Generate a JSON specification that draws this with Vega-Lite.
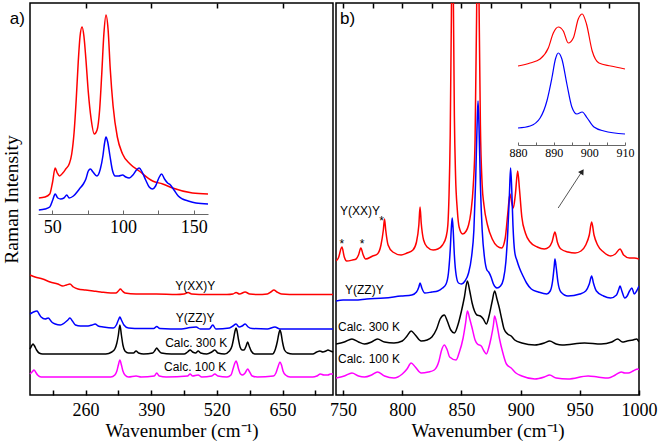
{
 "$schema": "https://vega.github.io/schema/vega-lite/v6.json",
 "autosize": {"type": "pad"},
 "padding": {"left": 0, "top": 1, "right": 5, "bottom": 5},
 "bounds": "flush",
 "spacing": 3,
 "config": {
  "view": {"stroke": "#000", "strokeWidth": 1.5},
  "axis": {"grid": false, "labelFont": "Liberation Serif", "titleFont": "Liberation Serif", "labelColor": "#000", "titleColor": "#000", "tickColor": "#000", "domainColor": "#000", "titleFontWeight": "normal", "labelOverlap": false, "labelFlush": false},
  "text": {"font": "Liberation Sans", "color": "#000"},
  "line": {"interpolate": "monotone"}
 },
 "datasets": {
  "la": [
   {"s":"XX","x":150,"y":120},{"s":"XX","x":160,"y":118},{"s":"XX","x":175,"y":116},{"s":"XX","x":190,"y":113},{"s":"XX","x":205,"y":111},{"s":"XX","x":215,"y":109},{"s":"XX","x":222,"y":110},{"s":"XX","x":229,"y":111},{"s":"XX","x":236,"y":108},{"s":"XX","x":245,"y":106},{"s":"XX","x":260,"y":105},{"s":"XX","x":275,"y":104},{"s":"XX","x":290,"y":103},{"s":"XX","x":310,"y":102},{"s":"XX","x":320,"y":102},{"s":"XX","x":325,"y":104},{"s":"XX","x":329,"y":106},{"s":"XX","x":333,"y":104},{"s":"XX","x":338,"y":102},{"s":"XX","x":360,"y":101},{"s":"XX","x":400,"y":101},{"s":"XX","x":440,"y":100.5},{"s":"XX","x":455,"y":101},{"s":"XX","x":463,"y":102.5},{"s":"XX","x":470,"y":101},{"s":"XX","x":500,"y":100.5},{"s":"XX","x":540,"y":100.5},{"s":"XX","x":552,"y":101},{"s":"XX","x":558,"y":102.5},{"s":"XX","x":565,"y":101},{"s":"XX","x":576,"y":103},{"s":"XX","x":585,"y":101},{"s":"XX","x":600,"y":100.5},{"s":"XX","x":620,"y":101},{"s":"XX","x":627,"y":103},{"s":"XX","x":633,"y":105},{"s":"XX","x":639,"y":103},{"s":"XX","x":648,"y":101},{"s":"XX","x":680,"y":100.5},{"s":"XX","x":720,"y":100.5},{"s":"XX","x":750,"y":100.5},
   {"s":"ZZ","x":150,"y":81},{"s":"ZZ","x":157,"y":83},{"s":"ZZ","x":164,"y":84},{"s":"ZZ","x":168,"y":81},{"s":"ZZ","x":172,"y":78},{"s":"ZZ","x":180,"y":76},{"s":"ZZ","x":186,"y":77},{"s":"ZZ","x":193,"y":73},{"s":"ZZ","x":200,"y":71},{"s":"ZZ","x":210,"y":70},{"s":"ZZ","x":218,"y":72},{"s":"ZZ","x":225,"y":75},{"s":"ZZ","x":229,"y":77},{"s":"ZZ","x":234,"y":74},{"s":"ZZ","x":240,"y":70},{"s":"ZZ","x":250,"y":69},{"s":"ZZ","x":265,"y":69},{"s":"ZZ","x":273,"y":70},{"s":"ZZ","x":279,"y":71},{"s":"ZZ","x":285,"y":69},{"s":"ZZ","x":295,"y":68},{"s":"ZZ","x":315,"y":67},{"s":"ZZ","x":321,"y":70},{"s":"ZZ","x":325,"y":75},{"s":"ZZ","x":328,"y":78},{"s":"ZZ","x":331,"y":75},{"s":"ZZ","x":336,"y":70},{"s":"ZZ","x":345,"y":67},{"s":"ZZ","x":370,"y":66.5},{"s":"ZZ","x":395,"y":66.5},{"s":"ZZ","x":401,"y":68.5},{"s":"ZZ","x":407,"y":66.5},{"s":"ZZ","x":450,"y":66},{"s":"ZZ","x":467,"y":67.5},{"s":"ZZ","x":479,"y":68},{"s":"ZZ","x":487,"y":66},{"s":"ZZ","x":505,"y":66},{"s":"ZZ","x":512,"y":70},{"s":"ZZ","x":518,"y":66},{"s":"ZZ","x":545,"y":67},{"s":"ZZ","x":552,"y":69},{"s":"ZZ","x":558,"y":71},{"s":"ZZ","x":564,"y":68},{"s":"ZZ","x":570,"y":69},{"s":"ZZ","x":576,"y":71},{"s":"ZZ","x":582,"y":68},{"s":"ZZ","x":590,"y":66.5},{"s":"ZZ","x":620,"y":66},{"s":"ZZ","x":635,"y":68},{"s":"ZZ","x":645,"y":66},{"s":"ZZ","x":700,"y":66},{"s":"ZZ","x":750,"y":66},
   {"s":"C300","x":150,"y":46},{"s":"C300","x":153,"y":49},{"s":"C300","x":156,"y":51},{"s":"C300","x":159,"y":49},{"s":"C300","x":163,"y":45},{"s":"C300","x":168,"y":42},{"s":"C300","x":175,"y":41},{"s":"C300","x":250,"y":41},{"s":"C300","x":300,"y":41},{"s":"C300","x":312,"y":43},{"s":"C300","x":318,"y":46},{"s":"C300","x":322,"y":52},{"s":"C300","x":325,"y":60},{"s":"C300","x":328,"y":70},{"s":"C300","x":331,"y":60},{"s":"C300","x":334,"y":50},{"s":"C300","x":338,"y":44},{"s":"C300","x":345,"y":42},{"s":"C300","x":355,"y":42},{"s":"C300","x":360,"y":44},{"s":"C300","x":365,"y":42},{"s":"C300","x":375,"y":41},{"s":"C300","x":393,"y":42},{"s":"C300","x":398,"y":45},{"s":"C300","x":401,"y":47},{"s":"C300","x":404,"y":45},{"s":"C300","x":410,"y":42},{"s":"C300","x":430,"y":41},{"s":"C300","x":455,"y":41},{"s":"C300","x":462,"y":43},{"s":"C300","x":467,"y":45},{"s":"C300","x":472,"y":43},{"s":"C300","x":478,"y":42},{"s":"C300","x":483,"y":44},{"s":"C300","x":488,"y":42},{"s":"C300","x":500,"y":41},{"s":"C300","x":510,"y":43},{"s":"C300","x":516,"y":45},{"s":"C300","x":522,"y":42},{"s":"C300","x":535,"y":41},{"s":"C300","x":545,"y":44},{"s":"C300","x":550,"y":49},{"s":"C300","x":553,"y":56},{"s":"C300","x":556,"y":64},{"s":"C300","x":558,"y":67},{"s":"C300","x":560,"y":64},{"s":"C300","x":563,"y":55},{"s":"C300","x":566,"y":48},{"s":"C300","x":570,"y":45},{"s":"C300","x":574,"y":45},{"s":"C300","x":578,"y":49},{"s":"C300","x":581,"y":53},{"s":"C300","x":584,"y":49},{"s":"C300","x":588,"y":44},{"s":"C300","x":595,"y":41},{"s":"C300","x":630,"y":41},{"s":"C300","x":636,"y":46},{"s":"C300","x":640,"y":54},{"s":"C300","x":643,"y":62},{"s":"C300","x":645,"y":65},{"s":"C300","x":647,"y":62},{"s":"C300","x":650,"y":53},{"s":"C300","x":654,"y":45},{"s":"C300","x":660,"y":42},{"s":"C300","x":670,"y":41},{"s":"C300","x":710,"y":41},{"s":"C300","x":718,"y":43},{"s":"C300","x":724,"y":44},{"s":"C300","x":730,"y":43},{"s":"C300","x":736,"y":44},{"s":"C300","x":740,"y":45},{"s":"C300","x":745,"y":44},{"s":"C300","x":750,"y":43},
   {"s":"C100","x":150,"y":21},{"s":"C100","x":154,"y":23},{"s":"C100","x":158,"y":25},{"s":"C100","x":161,"y":23},{"s":"C100","x":165,"y":20},{"s":"C100","x":172,"y":18},{"s":"C100","x":250,"y":18},{"s":"C100","x":310,"y":18},{"s":"C100","x":318,"y":20},{"s":"C100","x":322,"y":24},{"s":"C100","x":325,"y":30},{"s":"C100","x":328,"y":35},{"s":"C100","x":331,"y":30},{"s":"C100","x":334,"y":24},{"s":"C100","x":338,"y":20},{"s":"C100","x":345,"y":18},{"s":"C100","x":360,"y":19},{"s":"C100","x":370,"y":18},{"s":"C100","x":396,"y":19},{"s":"C100","x":401,"y":22},{"s":"C100","x":406,"y":19},{"s":"C100","x":420,"y":18},{"s":"C100","x":462,"y":19},{"s":"C100","x":467,"y":21},{"s":"C100","x":472,"y":19},{"s":"C100","x":483,"y":20},{"s":"C100","x":490,"y":18},{"s":"C100","x":510,"y":19},{"s":"C100","x":516,"y":21},{"s":"C100","x":522,"y":19},{"s":"C100","x":540,"y":18},{"s":"C100","x":548,"y":20},{"s":"C100","x":552,"y":26},{"s":"C100","x":555,"y":31},{"s":"C100","x":558,"y":34},{"s":"C100","x":560,"y":32},{"s":"C100","x":563,"y":26},{"s":"C100","x":567,"y":21},{"s":"C100","x":571,"y":20},{"s":"C100","x":576,"y":22},{"s":"C100","x":581,"y":26},{"s":"C100","x":585,"y":23},{"s":"C100","x":590,"y":19},{"s":"C100","x":600,"y":18},{"s":"C100","x":632,"y":19},{"s":"C100","x":637,"y":22},{"s":"C100","x":641,"y":28},{"s":"C100","x":645,"y":33},{"s":"C100","x":648,"y":30},{"s":"C100","x":651,"y":24},{"s":"C100","x":656,"y":20},{"s":"C100","x":665,"y":18},{"s":"C100","x":710,"y":18},{"s":"C100","x":718,"y":19},{"s":"C100","x":725,"y":21},{"s":"C100","x":732,"y":20},{"s":"C100","x":740,"y":20},{"s":"C100","x":745,"y":21},{"s":"C100","x":750,"y":21}
  ],
  "li": [
   {"s":"XX","x":40.6,"y":16},{"s":"XX","x":45,"y":17},{"s":"XX","x":48.3,"y":20},{"s":"XX","x":50.3,"y":32},{"s":"XX","x":52.1,"y":46},{"s":"XX","x":53.6,"y":41},{"s":"XX","x":55.2,"y":38},{"s":"XX","x":57.5,"y":41},{"s":"XX","x":59.6,"y":45},{"s":"XX","x":62,"y":50},{"s":"XX","x":63.8,"y":60},{"s":"XX","x":65.5,"y":82},{"s":"XX","x":67,"y":115},{"s":"XX","x":68.4,"y":152},{"s":"XX","x":69.7,"y":178},{"s":"XX","x":71.1,"y":187},{"s":"XX","x":72.4,"y":178},{"s":"XX","x":73.8,"y":155},{"s":"XX","x":75.5,"y":122},{"s":"XX","x":77.5,"y":95},{"s":"XX","x":79.7,"y":80},{"s":"XX","x":81.7,"y":84},{"s":"XX","x":83.5,"y":104},{"s":"XX","x":85,"y":140},{"s":"XX","x":86.5,"y":180},{"s":"XX","x":88,"y":199},{"s":"XX","x":89.5,"y":184},{"s":"XX","x":91,"y":145},{"s":"XX","x":93,"y":108},{"s":"XX","x":96,"y":77},{"s":"XX","x":99.7,"y":60},{"s":"XX","x":105,"y":50},{"s":"XX","x":111.4,"y":43},{"s":"XX","x":120.9,"y":33},{"s":"XX","x":128,"y":30},{"s":"XX","x":135,"y":26},{"s":"XX","x":149,"y":21},{"s":"XX","x":160,"y":20},
   {"s":"ZZ","x":40.6,"y":4},{"s":"ZZ","x":45,"y":5},{"s":"ZZ","x":48.3,"y":7},{"s":"ZZ","x":50.4,"y":14},{"s":"ZZ","x":52.1,"y":20},{"s":"ZZ","x":54,"y":16},{"s":"ZZ","x":56,"y":15},{"s":"ZZ","x":58.3,"y":16},{"s":"ZZ","x":60.3,"y":19},{"s":"ZZ","x":62,"y":16},{"s":"ZZ","x":65,"y":18},{"s":"ZZ","x":69.2,"y":25},{"s":"ZZ","x":72,"y":30},{"s":"ZZ","x":73.8,"y":35},{"s":"ZZ","x":75.5,"y":43},{"s":"ZZ","x":77,"y":45},{"s":"ZZ","x":78.8,"y":42},{"s":"ZZ","x":81.6,"y":38},{"s":"ZZ","x":84,"y":45},{"s":"ZZ","x":85.8,"y":58},{"s":"ZZ","x":87,"y":71},{"s":"ZZ","x":88,"y":77},{"s":"ZZ","x":89.2,"y":72},{"s":"ZZ","x":90.8,"y":58},{"s":"ZZ","x":92.5,"y":44},{"s":"ZZ","x":94.5,"y":38},{"s":"ZZ","x":97,"y":38},{"s":"ZZ","x":99.7,"y":39},{"s":"ZZ","x":102,"y":37},{"s":"ZZ","x":104.4,"y":36},{"s":"ZZ","x":107,"y":39},{"s":"ZZ","x":109.5,"y":44},{"s":"ZZ","x":111.4,"y":46},{"s":"ZZ","x":113.5,"y":42},{"s":"ZZ","x":116,"y":34},{"s":"ZZ","x":118.5,"y":27},{"s":"ZZ","x":120.9,"y":25},{"s":"ZZ","x":123,"y":28},{"s":"ZZ","x":125.3,"y":36},{"s":"ZZ","x":127.2,"y":40},{"s":"ZZ","x":129.3,"y":35},{"s":"ZZ","x":131.5,"y":31},{"s":"ZZ","x":133.5,"y":29},{"s":"ZZ","x":136,"y":24},{"s":"ZZ","x":139,"y":18},{"s":"ZZ","x":142,"y":15},{"s":"ZZ","x":146,"y":13},{"s":"ZZ","x":151.5,"y":11},{"s":"ZZ","x":160,"y":10}
  ],
  "ra": [
   {"s":"XX","x":744,"y":134},{"s":"XX","x":746,"y":137},{"s":"XX","x":749,"y":148},{"s":"XX","x":751,"y":138},{"s":"XX","x":753,"y":134},{"s":"XX","x":758,"y":135},{"s":"XX","x":761,"y":136},{"s":"XX","x":763,"y":140},{"s":"XX","x":765,"y":147},{"s":"XX","x":767,"y":140},{"s":"XX","x":769,"y":136},{"s":"XX","x":775,"y":139},{"s":"XX","x":779,"y":141},{"s":"XX","x":782,"y":150},{"s":"XX","x":784,"y":165},{"s":"XX","x":785,"y":176},{"s":"XX","x":786,"y":165},{"s":"XX","x":788,"y":150},{"s":"XX","x":792,"y":143},{"s":"XX","x":799,"y":140},{"s":"XX","x":804,"y":142},{"s":"XX","x":809,"y":145},{"s":"XX","x":812,"y":153},{"s":"XX","x":814,"y":170},{"s":"XX","x":815,"y":188},{"s":"XX","x":816,"y":172},{"s":"XX","x":818,"y":155},{"s":"XX","x":821,"y":148},{"s":"XX","x":826,"y":145},{"s":"XX","x":830,"y":146},{"s":"XX","x":834,"y":150},{"s":"XX","x":837,"y":158},{"s":"XX","x":838.5,"y":170},{"s":"XX","x":839.5,"y":200},{"s":"XX","x":840.5,"y":260},{"s":"XX","x":841.5,"y":380},{"s":"XX","x":842.2,"y":520},{"s":"XX","x":843,"y":420},{"s":"XX","x":844,"y":280},{"s":"XX","x":845,"y":220},{"s":"XX","x":846.5,"y":185},{"s":"XX","x":848,"y":168},{"s":"XX","x":851,"y":161},{"s":"XX","x":854,"y":164},{"s":"XX","x":856,"y":170},{"s":"XX","x":858,"y":183},{"s":"XX","x":860,"y":210},{"s":"XX","x":861.5,"y":255},{"s":"XX","x":862.8,"y":380},{"s":"XX","x":863.8,"y":520},{"s":"XX","x":864.8,"y":400},{"s":"XX","x":866,"y":270},{"s":"XX","x":867.5,"y":210},{"s":"XX","x":869,"y":190},{"s":"XX","x":872,"y":170},{"s":"XX","x":876,"y":156},{"s":"XX","x":880,"y":149},{"s":"XX","x":884,"y":147},{"s":"XX","x":887,"y":157},{"s":"XX","x":889,"y":180},{"s":"XX","x":891,"y":201},{"s":"XX","x":892.5,"y":192},{"s":"XX","x":893.8,"y":187},{"s":"XX","x":895.5,"y":200},{"s":"XX","x":897.5,"y":224},{"s":"XX","x":899,"y":206},{"s":"XX","x":901,"y":178},{"s":"XX","x":904,"y":162},{"s":"XX","x":908,"y":153},{"s":"XX","x":914,"y":148},{"s":"XX","x":920,"y":146},{"s":"XX","x":924,"y":148},{"s":"XX","x":926.5,"y":153},{"s":"XX","x":929,"y":163},{"s":"XX","x":931,"y":153},{"s":"XX","x":934,"y":146},{"s":"XX","x":940,"y":143},{"s":"XX","x":946,"y":142},{"s":"XX","x":951,"y":144},{"s":"XX","x":955,"y":150},{"s":"XX","x":958,"y":160},{"s":"XX","x":960,"y":173},{"s":"XX","x":962,"y":160},{"s":"XX","x":965,"y":150},{"s":"XX","x":970,"y":143},{"s":"XX","x":976,"y":139},{"s":"XX","x":980,"y":141},{"s":"XX","x":984,"y":146},{"s":"XX","x":987,"y":140},{"s":"XX","x":992,"y":137},{"s":"XX","x":996,"y":137},{"s":"XX","x":1000,"y":136},
   {"s":"ZZ","x":744,"y":94},{"s":"ZZ","x":750,"y":95},{"s":"ZZ","x":760,"y":95},{"s":"ZZ","x":770,"y":96},{"s":"ZZ","x":785,"y":97},{"s":"ZZ","x":799,"y":99},{"s":"ZZ","x":808,"y":100},{"s":"ZZ","x":812,"y":103},{"s":"ZZ","x":814,"y":108},{"s":"ZZ","x":815,"y":112},{"s":"ZZ","x":816.5,"y":107},{"s":"ZZ","x":819,"y":102},{"s":"ZZ","x":825,"y":103},{"s":"ZZ","x":830,"y":104},{"s":"ZZ","x":834,"y":107},{"s":"ZZ","x":837,"y":111},{"s":"ZZ","x":839,"y":122},{"s":"ZZ","x":840.5,"y":145},{"s":"ZZ","x":841.5,"y":168},{"s":"ZZ","x":842.2,"y":177},{"s":"ZZ","x":843,"y":165},{"s":"ZZ","x":844,"y":140},{"s":"ZZ","x":845.5,"y":120},{"s":"ZZ","x":847.5,"y":112},{"s":"ZZ","x":850,"y":111},{"s":"ZZ","x":853,"y":114},{"s":"ZZ","x":856,"y":122},{"s":"ZZ","x":858.5,"y":138},{"s":"ZZ","x":860.5,"y":165},{"s":"ZZ","x":862,"y":215},{"s":"ZZ","x":863.2,"y":270},{"s":"ZZ","x":864,"y":294},{"s":"ZZ","x":864.8,"y":270},{"s":"ZZ","x":866,"y":210},{"s":"ZZ","x":867.5,"y":165},{"s":"ZZ","x":869.5,"y":137},{"s":"ZZ","x":871.5,"y":125},{"s":"ZZ","x":873,"y":123},{"s":"ZZ","x":875,"y":118},{"s":"ZZ","x":877,"y":111},{"s":"ZZ","x":880,"y":107},{"s":"ZZ","x":883,"y":109},{"s":"ZZ","x":885.5,"y":116},{"s":"ZZ","x":887.5,"y":133},{"s":"ZZ","x":889,"y":160},{"s":"ZZ","x":890.5,"y":200},{"s":"ZZ","x":891.5,"y":227},{"s":"ZZ","x":892.5,"y":205},{"s":"ZZ","x":893.5,"y":170},{"s":"ZZ","x":895,"y":143},{"s":"ZZ","x":897,"y":134},{"s":"ZZ","x":899,"y":127},{"s":"ZZ","x":902,"y":119},{"s":"ZZ","x":905,"y":112},{"s":"ZZ","x":909,"y":106},{"s":"ZZ","x":915,"y":103},{"s":"ZZ","x":922,"y":101},{"s":"ZZ","x":925,"y":104},{"s":"ZZ","x":927,"y":114},{"s":"ZZ","x":928.3,"y":128},{"s":"ZZ","x":929,"y":136},{"s":"ZZ","x":930,"y":128},{"s":"ZZ","x":931.5,"y":113},{"s":"ZZ","x":934,"y":103},{"s":"ZZ","x":940,"y":99},{"s":"ZZ","x":950,"y":101},{"s":"ZZ","x":955,"y":104},{"s":"ZZ","x":958,"y":111},{"s":"ZZ","x":960,"y":119},{"s":"ZZ","x":961.5,"y":112},{"s":"ZZ","x":964,"y":104},{"s":"ZZ","x":970,"y":99},{"s":"ZZ","x":976,"y":97},{"s":"ZZ","x":981,"y":100},{"s":"ZZ","x":983,"y":106},{"s":"ZZ","x":984,"y":109},{"s":"ZZ","x":985.5,"y":104},{"s":"ZZ","x":988,"y":97},{"s":"ZZ","x":990,"y":99},{"s":"ZZ","x":992,"y":104},{"s":"ZZ","x":994,"y":107},{"s":"ZZ","x":996,"y":101},{"s":"ZZ","x":998,"y":104},{"s":"ZZ","x":1000,"y":109},
   {"s":"C300","x":744,"y":51},{"s":"C300","x":751,"y":53},{"s":"C300","x":757.5,"y":56},{"s":"C300","x":763,"y":53},{"s":"C300","x":768,"y":51},{"s":"C300","x":774,"y":53},{"s":"C300","x":779,"y":56},{"s":"C300","x":785,"y":53},{"s":"C300","x":793,"y":52},{"s":"C300","x":800,"y":54},{"s":"C300","x":804,"y":59},{"s":"C300","x":807.5,"y":64},{"s":"C300","x":811,"y":60},{"s":"C300","x":816,"y":54},{"s":"C300","x":821,"y":55},{"s":"C300","x":825,"y":58},{"s":"C300","x":829,"y":66},{"s":"C300","x":832,"y":76},{"s":"C300","x":835.5,"y":80},{"s":"C300","x":838,"y":74},{"s":"C300","x":841,"y":65},{"s":"C300","x":844,"y":62},{"s":"C300","x":847,"y":70},{"s":"C300","x":850,"y":84},{"s":"C300","x":852.5,"y":98},{"s":"C300","x":855,"y":114},{"s":"C300","x":857,"y":104},{"s":"C300","x":859,"y":92},{"s":"C300","x":861,"y":84},{"s":"C300","x":863,"y":80},{"s":"C300","x":866,"y":79},{"s":"C300","x":868.5,"y":76},{"s":"C300","x":871,"y":71},{"s":"C300","x":873.5,"y":80},{"s":"C300","x":876,"y":94},{"s":"C300","x":878,"y":104},{"s":"C300","x":880,"y":96},{"s":"C300","x":882,"y":87},{"s":"C300","x":884,"y":76},{"s":"C300","x":886,"y":66},{"s":"C300","x":889,"y":61},{"s":"C300","x":892,"y":59},{"s":"C300","x":895,"y":55},{"s":"C300","x":901,"y":52},{"s":"C300","x":912,"y":50},{"s":"C300","x":920,"y":52},{"s":"C300","x":924.5,"y":54},{"s":"C300","x":930,"y":51},{"s":"C300","x":935,"y":50},{"s":"C300","x":954,"y":52},{"s":"C300","x":968,"y":51},{"s":"C300","x":977,"y":53},{"s":"C300","x":982,"y":56},{"s":"C300","x":986,"y":53},{"s":"C300","x":990,"y":54},{"s":"C300","x":995,"y":55},{"s":"C300","x":998,"y":56},{"s":"C300","x":1000,"y":53},
   {"s":"C100","x":744,"y":17},{"s":"C100","x":751,"y":19},{"s":"C100","x":757.5,"y":22},{"s":"C100","x":763,"y":19},{"s":"C100","x":768,"y":18},{"s":"C100","x":774,"y":20},{"s":"C100","x":779,"y":23},{"s":"C100","x":785,"y":19},{"s":"C100","x":793,"y":17},{"s":"C100","x":800,"y":21},{"s":"C100","x":804,"y":26},{"s":"C100","x":807.5,"y":32},{"s":"C100","x":811,"y":28},{"s":"C100","x":816,"y":22},{"s":"C100","x":822,"y":23},{"s":"C100","x":827,"y":25},{"s":"C100","x":831,"y":34},{"s":"C100","x":833,"y":44},{"s":"C100","x":835.5,"y":50},{"s":"C100","x":838,"y":45},{"s":"C100","x":840,"y":38},{"s":"C100","x":845.5,"y":35},{"s":"C100","x":848,"y":42},{"s":"C100","x":851.4,"y":57},{"s":"C100","x":853.5,"y":72},{"s":"C100","x":855,"y":84},{"s":"C100","x":857,"y":76},{"s":"C100","x":859,"y":67},{"s":"C100","x":861.5,"y":55},{"s":"C100","x":863.5,"y":51},{"s":"C100","x":866.7,"y":49},{"s":"C100","x":869,"y":44},{"s":"C100","x":871,"y":41},{"s":"C100","x":873,"y":47},{"s":"C100","x":875,"y":57},{"s":"C100","x":877,"y":70},{"s":"C100","x":878,"y":79},{"s":"C100","x":880,"y":70},{"s":"C100","x":882,"y":57},{"s":"C100","x":885,"y":42},{"s":"C100","x":888,"y":31},{"s":"C100","x":892,"y":27},{"s":"C100","x":896,"y":22},{"s":"C100","x":901,"y":19},{"s":"C100","x":912,"y":16},{"s":"C100","x":920,"y":18},{"s":"C100","x":924.5,"y":20},{"s":"C100","x":930,"y":17},{"s":"C100","x":940,"y":16},{"s":"C100","x":957,"y":19},{"s":"C100","x":965,"y":18},{"s":"C100","x":974,"y":17},{"s":"C100","x":980,"y":20},{"s":"C100","x":985,"y":23},{"s":"C100","x":988,"y":22},{"s":"C100","x":991,"y":22},{"s":"C100","x":995,"y":24},{"s":"C100","x":999,"y":26},{"s":"C100","x":1000,"y":25}
  ],
  "ri": [
   {"s":"XX","x":880,"y":80},{"s":"XX","x":883.4,"y":83},{"s":"XX","x":886.2,"y":87},{"s":"XX","x":888.5,"y":98},{"s":"XX","x":889.9,"y":113},{"s":"XX","x":891.3,"y":119},{"s":"XX","x":892.7,"y":115},{"s":"XX","x":894.1,"y":103},{"s":"XX","x":895.5,"y":108},{"s":"XX","x":896.9,"y":127},{"s":"XX","x":898,"y":132},{"s":"XX","x":899.2,"y":122},{"s":"XX","x":900.8,"y":95},{"s":"XX","x":902.7,"y":83},{"s":"XX","x":906,"y":80},{"s":"XX","x":910,"y":77},
   {"s":"ZZ","x":880,"y":18},{"s":"ZZ","x":883.4,"y":20},{"s":"ZZ","x":886.2,"y":28},{"s":"ZZ","x":888.1,"y":45},{"s":"ZZ","x":889.5,"y":68},{"s":"ZZ","x":890.5,"y":87},{"s":"ZZ","x":891.3,"y":93},{"s":"ZZ","x":892.3,"y":87},{"s":"ZZ","x":893.7,"y":62},{"s":"ZZ","x":895.1,"y":39},{"s":"ZZ","x":896.5,"y":32},{"s":"ZZ","x":898,"y":34},{"s":"ZZ","x":899.4,"y":28},{"s":"ZZ","x":901.3,"y":19},{"s":"ZZ","x":904.1,"y":15},{"s":"ZZ","x":910,"y":12}
  ],
  "llab": [
   {"x":477,"y":109,"t":"Y(XX)Y"},{"x":477,"y":77,"t":"Y(ZZ)Y"},{"x":479,"y":52,"t":"Calc. 300 K"},{"x":477,"y":28,"t":"Calc. 100 K"}
  ],
  "rlab": [
   {"x":747.4,"y":184,"t":"Y(XX)Y"},{"x":751.6,"y":105,"t":"Y(ZZ)Y"},{"x":745.7,"y":68,"t":"Calc. 300 K"},{"x":745.7,"y":36,"t":"Calc. 100 K"}
  ],
  "star": [
   {"x":749,"y":147,"t":"*"},{"x":766,"y":147,"t":"*"},{"x":782.5,"y":170,"t":"*"}
  ]
 },
 "hconcat": [
  {
   "width": 303, "height": 392,
   "layer": [
    {
     "layer": [
      {"data": {"name": "la"}, "mark": {"type": "line", "strokeWidth": 1.5},
       "encoding": {
        "x": {"field": "x", "type": "quantitative", "scale": {"domain": [150, 750], "nice": false, "zero": false}, "axis": null},
        "y": {"field": "y", "type": "quantitative", "scale": {"domain": [0, 392], "nice": false, "zero": false},
              "axis": {"title": "Raman Intensity", "labels": false, "ticks": false, "domain": false, "titleFontSize": 19.5, "titlePadding": 9}},
        "color": {"field": "s", "type": "nominal", "scale": {"domain": ["XX", "ZZ", "C300", "C100"], "range": ["#ff0000", "#0000ff", "#000000", "#ff00ff"]}, "legend": null}
       }},
      {"data": {"name": "llab"}, "mark": {"type": "text", "fontSize": 12, "align": "center", "baseline": "middle"},
       "encoding": {"x": {"field": "x", "type": "quantitative", "axis": null}, "y": {"field": "y", "type": "quantitative"}, "text": {"field": "t"}}},
      {"data": {"values": [{"x": 110, "y": 371, "t": "a)"}]}, "mark": {"type": "text", "fontSize": 17, "align": "left", "baseline": "alphabetic"},
       "encoding": {"x": {"field": "x", "type": "quantitative", "axis": null}, "y": {"field": "y", "type": "quantitative"}, "text": {"field": "t"}}}
     ]
    },
    {"data": {"values": [{"x": 150}, {"x": 750}]}, "mark": {"type": "rule", "opacity": 0},
     "encoding": {"x": {"field": "x", "type": "quantitative", "scale": {"domain": [150, 750], "nice": false, "zero": false},
       "axis": {"orient": "bottom", "title": "Wavenumber (cm⁻¹)", "values": [260, 390, 520, 650], "format": "d", "tickSize": -5, "tickWidth": 1.5, "labelFontSize": 18, "titleFontSize": 19, "labelPadding": 11, "titlePadding": 2, "domain": false}}}},
    {"data": {"values": [{"x": 150}, {"x": 750}]}, "mark": {"type": "rule", "opacity": 0},
     "encoding": {"x": {"field": "x", "type": "quantitative", "scale": {"domain": [150, 750], "nice": false, "zero": false},
       "axis": {"orient": "bottom", "title": null, "labels": false, "domain": false, "values": [195, 325, 455, 585, 715], "tickSize": -5, "tickWidth": 1.5}}}},
    {"data": {"values": [{"x": 150}, {"x": 750}]}, "mark": {"type": "rule", "opacity": 0},
     "encoding": {"x": {"field": "x", "type": "quantitative", "scale": {"domain": [150, 750], "nice": false, "zero": false},
       "axis": {"orient": "top", "title": null, "labels": false, "domain": false, "values": [260, 390, 520, 650], "tickSize": -5, "tickWidth": 1.5}}}},
    {"data": {"name": "li"}, "mark": {"type": "line", "strokeWidth": 1.5},
     "encoding": {
      "x": {"field": "x", "type": "quantitative", "scale": {"domain": [40, 160], "range": [8, 178], "nice": false, "zero": false},
            "axis": {"orient": "bottom", "offset": -181, "title": null, "values": [50, 75, 100, 125, 150], "format": "d", "labelExpr": "datum.value % 50 == 0 ? datum.label : ''", "tickSize": -4, "labelFontSize": 18, "domainColor": "#666", "tickColor": "#666", "labelPadding": 8}},
      "y": {"field": "y", "type": "quantitative", "scale": {"domain": [0, 200], "range": [211, 11], "nice": false, "zero": false}, "axis": null},
      "color": {"field": "s", "type": "nominal", "legend": null}
     }}
   ],
   "resolve": {"scale": {"x": "independent", "y": "independent"}, "axis": {"x": "independent", "y": "independent"}}
  },
  {
   "width": 303, "height": 392,
   "layer": [
    {
     "layer": [
      {"data": {"name": "ra"}, "mark": {"type": "line", "strokeWidth": 1.5, "clip": true},
       "encoding": {
        "x": {"field": "x", "type": "quantitative", "scale": {"domain": [744, 1000], "nice": false, "zero": false},
              "axis": {"orient": "bottom", "title": "Wavenumber (cm⁻¹)", "values": [750, 775, 800, 825, 850, 875, 900, 925, 950, 975, 1000], "format": "d", "labelExpr": "datum.value % 50 == 0 ? datum.label : ''", "tickSize": -5, "tickWidth": 1.5, "labelFontSize": 18, "titleFontSize": 19, "labelPadding": 11, "titlePadding": 2, "domain": false}},
        "y": {"field": "y", "type": "quantitative", "scale": {"domain": [0, 392], "nice": false, "zero": false}, "axis": null},
        "color": {"field": "s", "type": "nominal", "legend": null}
       }},
      {"data": {"name": "rlab"}, "mark": {"type": "text", "fontSize": 12, "align": "left", "baseline": "middle"},
       "encoding": {"x": {"field": "x", "type": "quantitative"}, "y": {"field": "y", "type": "quantitative"}, "text": {"field": "t"}}},
      {"data": {"name": "star"}, "mark": {"type": "text", "fontSize": 12, "align": "center", "baseline": "alphabetic"},
       "encoding": {"x": {"field": "x", "type": "quantitative"}, "y": {"field": "y", "type": "quantitative"}, "text": {"field": "t"}}},
      {"data": {"values": [{"x": 747.4, "y": 371, "t": "b)"}]}, "mark": {"type": "text", "fontSize": 17, "align": "left", "baseline": "alphabetic"},
       "encoding": {"x": {"field": "x", "type": "quantitative"}, "y": {"field": "y", "type": "quantitative"}, "text": {"field": "t"}}},
      {"data": {"values": [{"x": 931.7, "y": 187, "x2": 951, "y2": 222}]}, "mark": {"type": "rule", "color": "#555", "strokeWidth": 1},
       "encoding": {"x": {"field": "x", "type": "quantitative"}, "y": {"field": "y", "type": "quantitative"}, "x2": {"field": "x2"}, "y2": {"field": "y2"}}},
      {"data": {"values": [{"x": 952, "y": 223.5}]}, "mark": {"type": "point", "shape": "triangle-up", "filled": true, "color": "#222", "size": 40, "angle": 33, "opacity": 1},
       "encoding": {"x": {"field": "x", "type": "quantitative"}, "y": {"field": "y", "type": "quantitative"}}}
     ]
    },
    {"data": {"values": [{"x": 744}, {"x": 1000}]}, "mark": {"type": "rule", "opacity": 0},
     "encoding": {"x": {"field": "x", "type": "quantitative", "scale": {"domain": [744, 1000], "nice": false, "zero": false},
       "axis": {"orient": "top", "title": null, "labels": false, "domain": false, "values": [750, 775, 800, 825, 850, 875, 900, 925, 950, 975], "tickSize": -5, "tickWidth": 1.5}}}},
    {"data": {"name": "ri"}, "mark": {"type": "line", "strokeWidth": 1.2},
     "encoding": {
      "x": {"field": "x", "type": "quantitative", "scale": {"domain": [880, 910], "range": [182, 289], "nice": false, "zero": false},
            "axis": {"orient": "bottom", "offset": -250, "title": null, "values": [880, 885, 890, 895, 900, 905, 910], "format": "d", "labelExpr": "datum.value % 10 == 0 ? datum.label : ''", "tickSize": -3, "labelFontSize": 12, "domainColor": "#666", "tickColor": "#666", "labelPadding": 5}},
      "y": {"field": "y", "type": "quantitative", "scale": {"domain": [0, 140], "range": [143, 3], "nice": false, "zero": false}, "axis": null},
      "color": {"field": "s", "type": "nominal", "legend": null}
     }}
   ],
   "resolve": {"scale": {"x": "independent", "y": "independent"}, "axis": {"x": "independent", "y": "independent"}}
  }
 ]
}
